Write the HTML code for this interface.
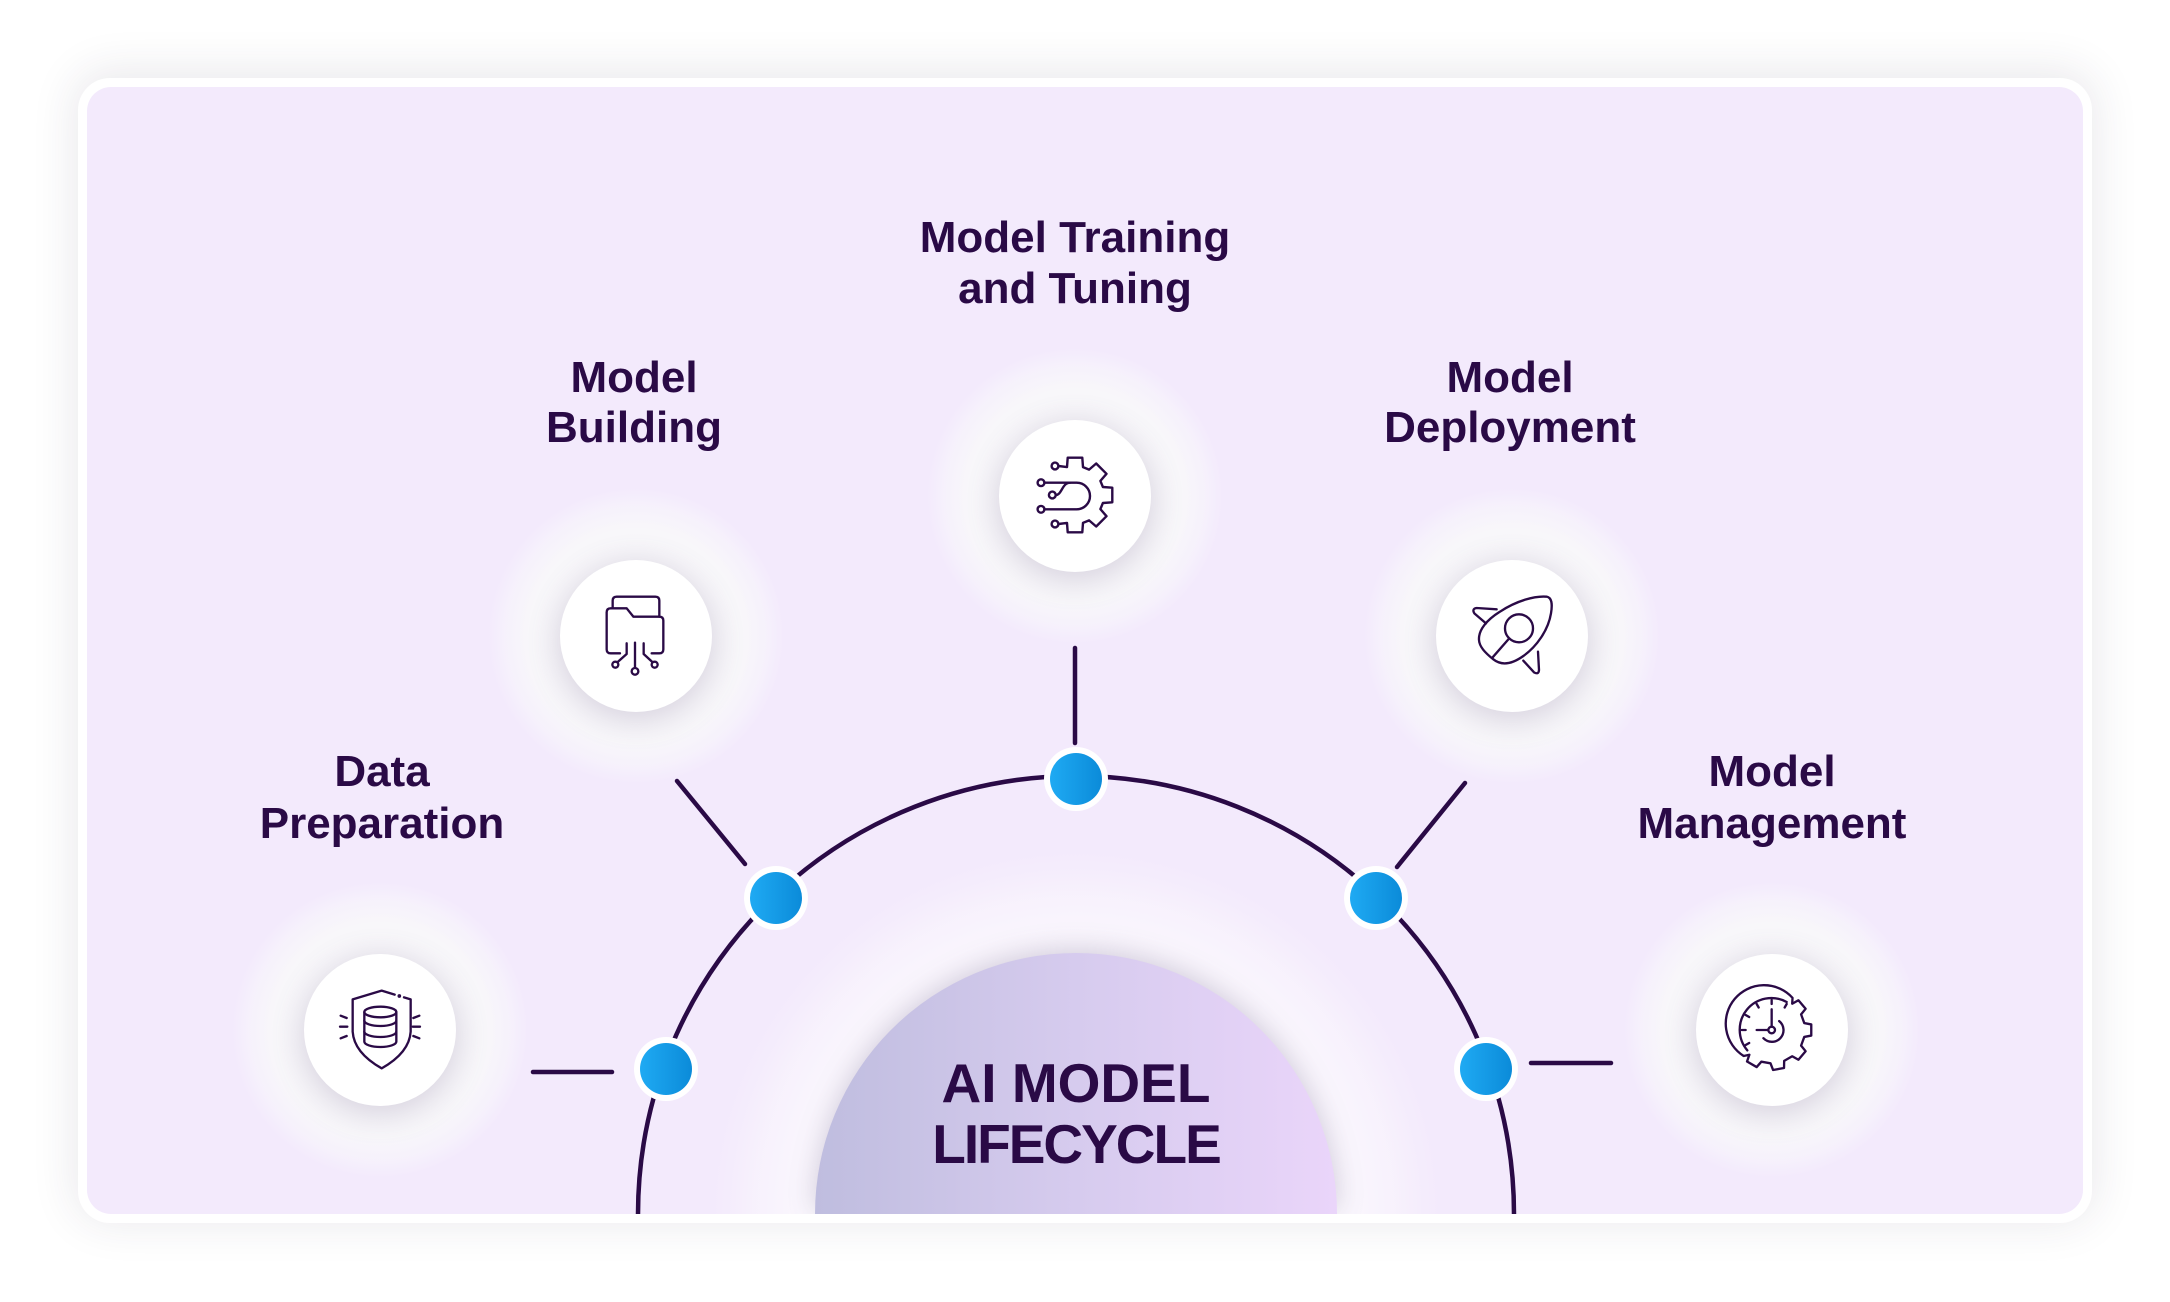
<!DOCTYPE html>
<html>
<head>
<meta charset="utf-8">
<style>
  html, body { margin:0; padding:0; background:#ffffff; width:2170px; height:1302px; overflow:hidden; }
  body { position:relative; font-family:"Liberation Sans", Arial, sans-serif; }
  .card { position:absolute; left:78px; top:78px; width:2014px; height:1145px; border-radius:32px; background:#ffffff;
          box-shadow: 0 -4px 44px 4px rgba(45,35,70,0.10); }
  svg.main { position:absolute; left:0; top:0; display:block; }
</style>
</head>
<body>
<div class="card"></div>
<svg class="main" width="2170" height="1302" viewBox="0 0 2170 1302" xmlns="http://www.w3.org/2000/svg">
  <defs>
    <clipPath id="inner">
      <rect x="87" y="87" width="1996" height="1127" rx="24" ry="24"/>
    </clipPath>
    <radialGradient id="halo" cx="50%" cy="50%" r="50%">
      <stop offset="0%" stop-color="#f7f6f9"/>
      <stop offset="72%" stop-color="#f8f7fa"/>
      <stop offset="88%" stop-color="#f8f6fb" stop-opacity="0.6"/>
      <stop offset="100%" stop-color="#f8f6fb" stop-opacity="0"/>
    </radialGradient>
    <radialGradient id="bigglow" gradientUnits="userSpaceOnUse" cx="1076" cy="1215" r="365">
      <stop offset="0%" stop-color="#fdfcfe"/>
      <stop offset="70%" stop-color="#fcfafe"/>
      <stop offset="88%" stop-color="#faf6fd" stop-opacity="0.6"/>
      <stop offset="100%" stop-color="#f8f2fd" stop-opacity="0"/>
    </radialGradient>
    <linearGradient id="semi" x1="0" y1="0" x2="1" y2="0">
      <stop offset="0%" stop-color="#bfbddf"/>
      <stop offset="50%" stop-color="#d6cbee"/>
      <stop offset="100%" stop-color="#ead5fa"/>
    </linearGradient>
    <linearGradient id="dot" x1="0" y1="0" x2="1" y2="0">
      <stop offset="0%" stop-color="#1faaf3"/>
      <stop offset="100%" stop-color="#0b8bd9"/>
    </linearGradient>
    <filter id="blur16" x="-50%" y="-50%" width="200%" height="200%">
      <feGaussianBlur stdDeviation="16"/>
    </filter>
    <filter id="blur14" x="-50%" y="-50%" width="200%" height="200%">
      <feGaussianBlur stdDeviation="14"/>
    </filter>
  </defs>

  <g clip-path="url(#inner)">
    <rect x="87" y="87" width="1996" height="1127" fill="#f3eafc"/>

    <rect x="711" y="850" width="730" height="364" fill="url(#bigglow)"/>

    <g>
      <circle cx="1075" cy="496" r="148" fill="url(#halo)"/>
      <circle cx="636" cy="636" r="148" fill="url(#halo)"/>
      <circle cx="1512" cy="636" r="148" fill="url(#halo)"/>
      <circle cx="380" cy="1030" r="148" fill="url(#halo)"/>
      <circle cx="1772" cy="1030" r="148" fill="url(#halo)"/>
    </g>
    <g fill="#6b5a85" opacity="0.24" filter="url(#blur16)">
      <circle cx="1075" cy="502" r="78"/>
      <circle cx="636" cy="642" r="78"/>
      <circle cx="1512" cy="642" r="78"/>
      <circle cx="380" cy="1036" r="78"/>
      <circle cx="1772" cy="1036" r="78"/>
    </g>
    <g fill="#ffffff">
      <circle cx="1075" cy="496" r="76"/>
      <circle cx="636" cy="636" r="76"/>
      <circle cx="1512" cy="636" r="76"/>
      <circle cx="380" cy="1030" r="76"/>
      <circle cx="1772" cy="1030" r="76"/>
    </g>

    <path d="M638,1214 A438,438 0 0 1 1514,1214" fill="none" stroke="#2a0a46" stroke-width="4.5"/>

    <g stroke="#2a0a46" stroke-width="4.5" stroke-linecap="round" fill="none">
      <line x1="533" y1="1072" x2="612" y2="1072"/>
      <line x1="677" y1="781" x2="745" y2="864"/>
      <line x1="1075" y1="648" x2="1075" y2="743"/>
      <line x1="1465" y1="783" x2="1397" y2="867"/>
      <line x1="1531" y1="1063" x2="1611" y2="1063"/>
    </g>

    <g>
      <circle cx="1076" cy="779" r="32" fill="#ffffff"/>
      <circle cx="1076" cy="779" r="26" fill="url(#dot)"/>
      <circle cx="776" cy="898" r="32" fill="#ffffff"/>
      <circle cx="776" cy="898" r="26" fill="url(#dot)"/>
      <circle cx="1376" cy="898" r="32" fill="#ffffff"/>
      <circle cx="1376" cy="898" r="26" fill="url(#dot)"/>
      <circle cx="666" cy="1069" r="32" fill="#ffffff"/>
      <circle cx="666" cy="1069" r="26" fill="url(#dot)"/>
      <circle cx="1486" cy="1069" r="32" fill="#ffffff"/>
      <circle cx="1486" cy="1069" r="26" fill="url(#dot)"/>
    </g>

    <path d="M815,1214 A261,261 0 0 1 1337,1214 Z" fill="#5a4a7a" opacity="0.28" filter="url(#blur14)" transform="translate(0,-3)"/>
    <path d="M815,1214 A261,261 0 0 1 1337,1214 Z" fill="url(#semi)"/>
    <text x="1076" y="1102" text-anchor="middle" font-family="Liberation Sans, Arial, sans-serif" font-weight="700" font-size="55" fill="#2a0a46">AI MODEL</text>
    <text x="1076" y="1163" text-anchor="middle" font-family="Liberation Sans, Arial, sans-serif" font-weight="700" font-size="55" letter-spacing="-2" fill="#2a0a46">LIFECYCLE</text>

    <g font-family="Liberation Sans, Arial, sans-serif" font-weight="700" font-size="44" fill="#2a0a46" text-anchor="middle">
      <text x="1075" y="252">Model Training</text>
      <text x="1075" y="303">and Tuning</text>
      <text x="634" y="392">Model</text>
      <text x="634" y="442">Building</text>
      <text x="1510" y="392">Model</text>
      <text x="1510" y="442">Deployment</text>
      <text x="382" y="786">Data</text>
      <text x="382" y="838">Preparation</text>
      <text x="1772" y="786">Model</text>
      <text x="1772" y="838">Management</text>
    </g>

    <g transform="translate(1020,440)" fill="none" stroke="#2a0a46" stroke-width="2.4" stroke-linecap="round" stroke-linejoin="round">
      <path d="M38.5,26 L47,27.1 L47.7,17.7 L62.3,17.7 L63,27.1 L69.1,29.6 L76.2,23.5 L86.5,33.8 L80.4,40.9 L82.9,47 L92.3,47.7 L92.3,62.3 L82.9,63 L80.4,69.1 L86.5,76.2 L76.2,86.5 L69.1,80.4 L63,82.9 L62.3,92.3 L47.7,92.3 L47,82.9 L38.5,84"/>
      <circle cx="35" cy="26" r="3.4"/>
      <circle cx="35" cy="84" r="3.4"/>
      <circle cx="21" cy="42.7" r="3.4"/>
      <circle cx="21" cy="69.3" r="3.4"/>
      <circle cx="32.3" cy="55" r="3.4"/>
      <path d="M24.4,42.7 H56.7 A13.3,13.3 0 0 1 56.7,69.3 H24.4"/>
      <path d="M35.7,55 C42,55 42,42.7 50,42.7"/>
    </g>

    <g transform="translate(480,330) scale(0.33333)" fill="none" stroke="#2a0a46" stroke-width="7" stroke-linecap="round" stroke-linejoin="round">
      <path d="M398,835 V812 Q398,800 410,800 H526 Q538,800 538,812 V860"/>
      <path d="M420,970 H392 Q380,970 380,958 V847 Q380,835 392,835 H440 L460,860 H538 Q550,860 550,872 V958 Q550,970 538,970 H515"/>
      <path d="M465,938 V1013"/>
      <circle cx="465" cy="1024" r="10"/>
      <path d="M440,940 V972 L413,996"/>
      <circle cx="406" cy="1004" r="9"/>
      <path d="M491,940 V972 L517,996"/>
      <circle cx="524" cy="1004" r="9"/>
    </g>

    <g transform="translate(230,730) scale(0.33333)" fill="none" stroke="#2a0a46" stroke-width="7" stroke-linecap="round" stroke-linejoin="round">
      <path d="M494,794 L455,782 L368,808 L368,905 Q372,968 455,1015 Q538,968 542,905 L542,808 L522,802"/>
      <circle cx="508" cy="798" r="2" fill="#2a0a46"/>
      <ellipse cx="451" cy="846" rx="48" ry="16"/>
      <path d="M403,846 V935 A48,16 0 0 0 499,935 V846"/>
      <path d="M403,872 A48,16 0 0 0 499,872"/>
      <path d="M403,905 A48,16 0 0 0 499,905"/>
      <path d="M332,857 L350,864 M330,890 L352,890 M332,925 L350,918"/>
      <path d="M568,857 L550,864 M570,890 L548,890 M568,925 L550,918"/>
    </g>

    <g transform="translate(1360,330) scale(0.33333)" fill="none" stroke="#2a0a46" stroke-width="7" stroke-linecap="round" stroke-linejoin="round">
      <path d="M357,930 C355,900 380,870 420,845 C470,812 525,797 560,800 C575,803 578,820 573,850 C565,900 530,950 490,978 C455,1003 425,1008 400,988 C375,968 358,950 357,930 Z"/>
      <circle cx="477" cy="895" r="42"/>
      <path d="M447,926 L398,982"/>
      <path d="M410,838 L350,834 Q335,836 343,850 L378,880"/>
      <path d="M534,965 L537,1020 Q536,1035 522,1027 L490,992"/>
    </g>

    <g transform="translate(1500,730) scale(0.33333)" fill="none" stroke="#2a0a46" stroke-width="7" stroke-linecap="round" stroke-linejoin="round">
      <path d="M731,978 A115,115 0 1 1 877.6,803.6 L876.6,821.2 L895.3,810.8 L916.8,836.4 L903.3,853.1 L912.8,879.2 L933.8,883.3 L933.8,916.7 L912.8,920.8 L903.3,946.9 L916.8,963.6 L895.3,989.2 L876.6,978.8 L852.5,992.7 L852.1,1014.1 L819.2,1019.9 L811.5,999.9 L784.1,995.1 L770,1011.2 L741.1,994.6 L748.1,974.3 Z"/>
      <path d="M742,961 A95,95 0 0 1 860,816"/>
      <path d="M815,838 V890"/>
      <path d="M770,900 H805"/>
      <circle cx="815" cy="900" r="10"/>
      <path d="M837.5,873.2 A35,35 0 1 1 790.3,924.7"/>
      <path d="M815,822 V810 M776,832.5 L770,822 M747.5,861 L737,855 M737,900 H725 M747.5,939 L737,945 M854,832.5 L860,822"/>
    </g>
  </g>
</svg>
</body>
</html>
